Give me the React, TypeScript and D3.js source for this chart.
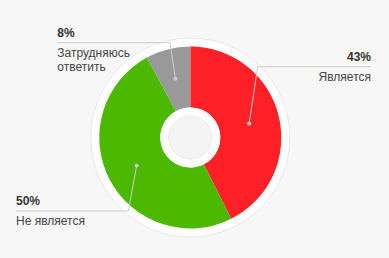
import React from "react";
import * as d3 from "d3";

const categories = ["Является", "Не является", "Затрудняюсь ответить"];
const values = [43, 50, 8];
const percentLabels = ["43%", "50%", "8%"];
const labelLines = [["Является"], ["Не является"], ["Затрудняюсь", "ответить"]];
const colors = ["#fe2027", "#4cb800", "#999999"];

// label layout (annotation placement)
const layout = [
  { elbowX: 257.7, lineY: 66.7, endX: 371, anchor: "end" },
  { elbowX: 128.3, lineY: 211, endX: 16, anchor: "start" },
  { elbowX: 170, lineY: 42.7, endX: 57.3, anchor: "start" },
];

const W = 389;
const H = 258;
const cx = 190.3;
const cy = 137.5;
const outerR = 91;
const innerR = 30;
const ringR = 99.5;
const holeR = 21.7;

export default function App() {
  const pie = d3.pie<number>().sort(null).value((d) => d);
  const arcs = pie(values);
  const arc = d3.arc<d3.PieArcDatum<number>>().innerRadius(innerR).outerRadius(outerR);
  const labelArc = d3
    .arc<d3.PieArcDatum<number>>()
    .innerRadius((innerR + outerR) / 2)
    .outerRadius((innerR + outerR) / 2);
  const font = "'Liberation Sans', Arial, Helvetica, sans-serif";
  return (
    <svg
      width={W}
      height={H}
      style={{ position: "absolute", left: 0, top: 0, background: "#f7f7f7" }}
    >
      <rect x={0} y={0} width={W} height={H} fill="#f7f7f7" />
      <circle cx={cx} cy={cy} r={ringR} fill="#ffffff" stroke="#e8e8e8" strokeWidth={1} />
      <g transform={`translate(${cx},${cy})`}>
        {arcs.map((a, i) => (
          <path key={categories[i]} d={arc(a) || ""} fill={colors[i]} />
        ))}
        <circle r={innerR} fill="#ffffff" />
        <circle r={holeR} fill="#f4f4f4" stroke="#ececec" strokeWidth={1} />
      </g>
      {arcs.map((a, i) => {
        const [dx, dy] = labelArc.centroid(a);
        const px = cx + dx;
        const py = cy + dy;
        const L = layout[i];
        return (
          <g key={"lbl" + i}>
            <polyline
              points={`${px},${py} ${L.elbowX},${L.lineY} ${L.endX},${L.lineY}`}
              fill="none"
              stroke="#cccccc"
              strokeWidth={1}
            />
            <circle cx={px} cy={py} r={2} fill="#cccccc" />
            <text
              x={L.endX}
              y={L.lineY - 6}
              textAnchor={L.anchor}
              fontFamily={font}
              fontSize={12}
              fontWeight="bold"
              fill="#333333"
            >
              {percentLabels[i]}
            </text>
            {labelLines[i].map((t, j) => (
              <text
                key={j}
                x={L.endX}
                y={L.lineY + 14 + j * 14.3}
                textAnchor={L.anchor}
                fontFamily={font}
                fontSize={12}
                fill="#444444"
              >
                {t}
              </text>
            ))}
          </g>
        );
      })}
    </svg>
  );
}
